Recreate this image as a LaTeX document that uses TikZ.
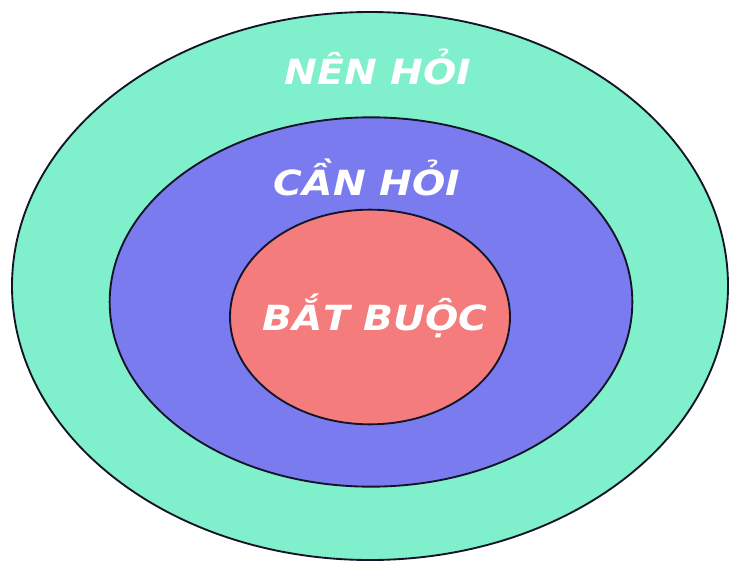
\documentclass[tikz,border=0pt]{standalone}
\usepackage{fontspec}
\setmainfont{DejaVu Sans}
\newfontfamily\tagfont{DejaVu Sans}[FakeStretch=1.13]
\usetikzlibrary{shapes.geometric}
\definecolor{ringOuter}{RGB}{128,239,203}
\definecolor{ringMiddle}{RGB}{123,123,240}
\definecolor{ringInner}{RGB}{244,124,124}
\definecolor{ringLine}{RGB}{20,20,40}

\begin{document}
\begin{tikzpicture}[
  x=0.75pt,
  y=-0.75pt,
  ring/.style={ellipse, draw=ringLine, line width=1.4pt, inner sep=0pt},
  tag/.style={text=white, anchor=base, font=\tagfont\fontsize{26}{30}\selectfont\bfseries\itshape, inner sep=0pt}
]
\useasboundingbox[fill=white] (0,0) rectangle (730,563);

\node[ring, fill=ringOuter, minimum width=537pt, minimum height=411pt] (outer) at (370,286) {};
\node[ring, fill=ringMiddle, minimum width=392pt, minimum height=277pt] (middle) at (371,302) {};
\node[ring, fill=ringInner, minimum width=210pt, minimum height=161pt] (inner) at (370,317) {};

\node[tag] (nen) at (378,85) {NÊN HỎI};
\node[tag] (can) at (367,195) {CẦN HỎI};
\node[tag] (bat) at (375,330) {BẮT BUỘC};
\end{tikzpicture}
\end{document}
